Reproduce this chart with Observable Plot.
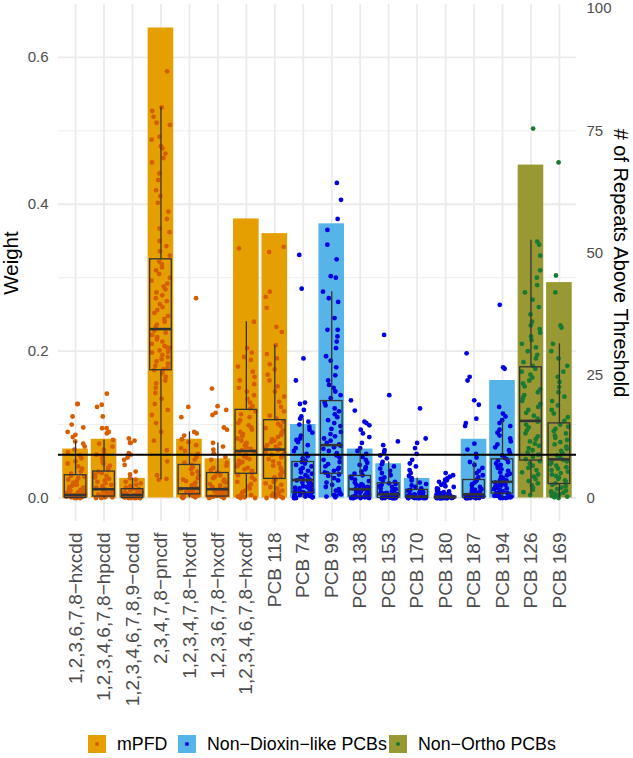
<!DOCTYPE html>
<html><head><meta charset="utf-8">
<script src="https://cdn.jsdelivr.net/npm/d3@7"></script>
<script src="https://cdn.jsdelivr.net/npm/@observablehq/plot@0.6"></script>
<style>
body{margin:0;background:#fff;font-family:"Liberation Sans",Arial,Helvetica,sans-serif;}
#chart{width:633px;height:758px;position:relative;overflow:hidden;}
#chart svg{display:block;}
.legend{position:absolute;top:735px;left:0;height:18px;width:633px;}
.item{position:absolute;top:0;display:flex;align-items:center;height:18px;}
.sw{width:18px;height:18px;position:relative;flex:none;}
.sw i{position:absolute;left:7px;top:7px;width:4px;height:4px;border-radius:50%;}
.lab{margin-left:11px;font-size:17.8px;color:#000;white-space:nowrap;line-height:18px;}
</style></head><body><div id="chart"></div>
<script>
// ---- categories and groups ----
const categories = ["1,2,3,6,7,8−hxcdd","1,2,3,4,6,7,8−hpcdd","1,2,3,4,6,7,8,9−ocdd","2,3,4,7,8−pncdf",
  "1,2,3,4,7,8−hxcdf","1,2,3,6,7,8−hxcdf","1,2,3,4,6,7,8−hxcdf","PCB 118","PCB 74","PCB 99","PCB 138",
  "PCB 153","PCB 170","PCB 180","PCB 187","PCB 194","PCB 126","PCB 169"];
const groupOf = [0,0,0,0,0,0,0,0,1,1,1,1,1,1,1,1,2,2];
const groups = ["mPFD","Non−Dioxin−like PCBs","Non−Ortho PCBs"];
const barColors = ["#E69F00","#56B4E9","#999933"];
const pointColors = ["#D55E00","#0000E0","#1A7A32"];

// ---- bars: # of repeats above threshold (right axis) ----
const repeats = [10,12,4,96,12,8,57,54,15,56,10,7,4,0,12,24,68,44];
const REPEATS_PER_WEIGHT = 150; // secondary axis: 100 repeats <-> 0.667 weight

// ---- boxplot summaries (weight) ----
const q1          = [0.000,0.002,0.000,0.174,0.005,0.002,0.033,0.026,0.007,0.033,0.002,0.000,0.000,0.000,0.000,0.006,0.051,0.019];
const median      = [0.004,0.012,0.004,0.230,0.013,0.012,0.064,0.066,0.0245,0.072,0.012,0.005,0.002,0.001,0.005,0.022,0.105,0.0526];
const q3          = [0.031,0.036,0.012,0.325,0.045,0.034,0.120,0.106,0.049,0.132,0.030,0.020,0.011,0.002,0.0245,0.0526,0.178,0.1016];
const whiskerLow  = [0,0,0,0.025,0,0,0,0,0,0.002,0,0,0,0,0,0,0.004,0];
const whiskerHigh = [0.077,0.079,0.027,0.532,0.090,0.075,0.240,0.208,0.108,0.281,0.068,0.049,0.027,0.005,0.049,0.106,0.351,0.210];

const threshold = 0.059;
const weightTicks = [0,0.2,0.4,0.6];
const weightMinor = [0.1,0.3,0.5];
const repeatTicks = [0,25,50,75,100];

// ---- individual weights per repeat (jittered points) ----
const w_hxcdd = [0,0,0,.001,.001,.001,.001,.002,.002,.002,.002,.003,.003,.003,.003,.004,.004,.005,.005,.006,.006,.007,.008,.009,.010,.011,.012,.014,.015,.017,.018,.020,.021,.023,.025,.027,.029,.030,.033,.036,.040,.043,.047,.050,.054,.058,.062,.066,.070,.074,.077,.083,.086,.090,.096,.100,.111,.128,.128];
const w_hpcdd = [0,0,.001,.001,.001,.002,.002,.002,.002,.003,.003,.004,.005,.006,.007,.008,.009,.010,.011,.012,.012,.013,.014,.016,.018,.020,.022,.024,.026,.028,.030,.032,.034,.036,.038,.041,.044,.047,.050,.053,.056,.059,.062,.066,.070,.074,.079,.088,.090,.095,.095,.111,.124,.127,.142];
const w_ocdd = [0,0,0,0,0,0,.001,.001,.001,.001,.002,.002,.002,.002,.003,.003,.003,.004,.004,.004,.005,.005,.006,.006,.007,.008,.008,.009,.010,.011,.012,.012,.014,.016,.018,.020,.022,.025,.027,.032,.036,.045,.052,.055,.059,.061,.075,.075,.078,.081];
const w_pncdf = [.581,.532,.527,.519,.511,.508,.492,.488,.479,.476,.469,.463,.457,.442,.433,.419,.411,.402,.390,.380,.367,.362,.350,.343,.336,.330,
  .322,.318,.314,.310,.305,.300,.296,.292,.288,.284,.280,.276,.272,.268,.264,.260,.256,.252,.248,.244,.240,.236,.233,
  .228,.225,.222,.219,.216,.213,.210,.207,.205,.204,.201,.199,.198,.195,.192,.189,.186,.183,.180,.177,.175,.174,
  .170,.165,.160,.156,.150,.143,.135,.128,.120,.113,.102,.090,.078,.065,.050,.031,.026,.025];
const w_hxcdf1 = [0,.001,.001,.002,.002,.003,.003,.004,.004,.005,.005,.006,.007,.008,.009,.010,.011,.012,.013,.013,.014,.015,.017,.019,.021,.023,.025,.027,.030,.033,.036,.039,.042,.045,.048,.052,.056,.060,.064,.068,.072,.076,.080,.085,.088,.090,.110,.124,.272];
const w_hxcdf2 = [0,0,.001,.001,.001,.002,.002,.002,.003,.003,.004,.005,.006,.007,.008,.009,.010,.011,.012,.012,.013,.014,.015,.017,.019,.021,.023,.025,.027,.029,.031,.033,.035,.038,.041,.044,.048,.052,.056,.061,.066,.070,.075,.093,.096,.113,.116,.120,.125,.149];
const w_hxcdf3 = [.340,.240,.204,.198,.192,.188,.179,.172,.165,.160,.155,.150,.145,.140,.135,.130,.125,.122,
  .118,.114,.110,.106,.102,.099,.096,.093,.090,.087,.084,.081,.078,.075,.072,.069,.067,.065,
  .063,.061,.059,.057,.055,.053,.051,.049,.047,.045,.043,.041,.039,.037,.035,.034,
  .031,.028,.025,.022,.019,.016,.013,.010,.008,.006,.004,.002,0,0,.001,.003];
const w_pcb118 = [.342,.335,.281,.274,.259,.233,.226,.208,.196,.190,.182,.175,.168,.160,.152,.145,.138,.131,.124,.118,.112,.108,
  .104,.101,.098,.095,.092,.089,.086,.083,.080,.078,.076,.074,.072,.070,.068,.067,
  .065,.063,.061,.059,.057,.055,.053,.050,.047,.044,.041,.038,.035,.032,.030,.028,.027,
  .025,.022,.020,.018,.015,.013,.010,.008,.006,.004,.002,0,0,.001,.003,.005];
const w_pcb74 = [.331,.285,.190,.160,.130,.128,.120,.111,.108,.104,.100,.097,.093,.089,.085,.081,.079,.076,.072,.068,.064,.060,.057,.054,.051,
  .049,.047,.045,.043,.041,.039,.037,.035,.033,.031,.029,.027,.026,.025,.024,.023,.022,.021,.020,.019,.018,.017,.016,.015,.014,.013,.012,.011,.010,.009,
  .008,.008,.007,.007,.006,.005,.004,.004,.003,.003,.002,.002,.001,.001,0,0,0];
const w_pcb99 = [.429,.406,.380,.365,.345,.325,.302,.300,.281,.272,.267,.245,.229,.229,.220,.213,.204,.193,.187,.178,.167,.160,.154,.150,.145,.140,.136,
  .130,.126,.122,.118,.114,.110,.106,.102,.098,.094,.090,.087,.084,.081,.078,.075,.073,
  .071,.069,.067,.064,.061,.058,.055,.052,.049,.046,.043,.041,.039,.037,.035,.034,
  .032,.030,.027,.024,.021,.018,.015,.012,.010,.008,.006,.004,.002,.001,.003,.005];
const w_pcb138 = [.133,.119,.104,.102,.099,.093,.088,.083,.075,.068,.064,.060,.056,.052,.048,.045,.042,.039,.036,.033,.031,.029,.027,.025,.023,.021,.019,.018,.017,.016,.015,.014,.013,.012,.012,.011,.010,.009,.008,.007,.007,.006,.005,.005,.004,.004,.003,.003,.002,.002,.002,.001,.001,.001,0,0,0,0,0,.001];
const w_pcb153 = [.222,.140,.077,.072,.065,.062,.058,.054,.049,.046,.043,.040,.037,.034,.031,.028,.026,.024,.022,.020,.019,.018,.016,.015,.013,.012,.011,.010,.009,.008,.007,.006,.006,.005,.005,.004,.004,.003,.003,.002,.002,.002,.001,.001,.001,.001,0,0,0,0,0,0,0,0];
const w_pcb170 = [.122,.081,.075,.068,.060,.052,.047,.043,.038,.034,.030,.027,.024,.021,.019,.017,.015,.013,.011,.010,.009,.008,.007,.006,.005,.005,.004,.004,.003,.003,.003,.002,.002,.002,.002,.001,.001,.001,.001,.001,0,0,0,0,0,0,0,0,0,0];
const w_pcb180 = [.034,.031,.029,.027,.025,.024,.022,.020,.018,.016,.015,.013,.012,.010,.009,.008,.007,.006,.005,.005,.004,.004,.003,.003,.003,.002,.002,.002,.002,.002,.001,.001,.001,.001,.001,.001,.001,0,0,0,0,0,0,0,0,0,0,0,0,0];
const w_pcb187 = [.197,.165,.160,.133,.127,.108,.102,.098,.074,.066,.060,.055,.049,.045,.041,.037,.034,.031,.028,.025,.023,.021,.019,.017,.015,.013,.012,.011,.010,.009,.008,.007,.006,.006,.005,.005,.004,.004,.003,.003,.003,.002,.002,.002,.001,.001,.001,.001,0,0,0,0,0,0,0,0];
const w_pcb194 = [.263,.178,.176,.124,.115,.111,.106,.102,.098,.093,.089,.085,.081,.077,.073,.069,.065,.061,.058,.055,.053,.051,.049,.047,.045,.043,.041,.039,.037,.035,.033,.031,.029,.027,.025,.024,.023,.022,.021,.020,.019,.018,.017,.016,.015,.014,.013,.012,.011,.010,.009,.008,.007,.007,.006,.006,.005,.004,.003,.003,.002,.002,.001,.001,0,0,0];
const w_pcb126 = [.503,.349,.345,.330,.310,.300,.290,.280,.270,.260,.250,.240,.235,.230,.225,.220,.215,.210,.205,.200,.195,.190,.185,.180,
  .176,.172,.168,.164,.160,.156,.152,.148,.144,.140,.136,.132,.128,.124,.120,.116,.112,.108,
  .104,.100,.096,.092,.088,.084,.080,.077,.074,.071,.068,.065,.062,.059,.056,.053,
  .050,.047,.044,.041,.038,.035,.032,.029,.026,.023,.020,.017,.014,.011,.008,.004];
const w_pcb169 = [.457,.303,.280,.235,.232,.210,.200,.190,.180,.172,.165,.158,.151,.144,.138,.132,.126,.120,.115,.110,.105,
  .100,.097,.094,.091,.088,.085,.082,.079,.076,.073,.070,.067,.064,.061,.058,.055,
  .052,.050,.048,.046,.044,.042,.040,.038,.036,.034,.032,.030,.028,.026,.024,.022,.020,
  .018,.016,.014,.012,.010,.008,.006,.004,.002,0,.001,.003,.005,.007,.009];
const pointSets = [w_hxcdd,w_hpcdd,w_ocdd,w_pncdf,w_hxcdf1,w_hxcdf2,w_hxcdf3,w_pcb118,w_pcb74,w_pcb99,
  w_pcb138,w_pcb153,w_pcb170,w_pcb180,w_pcb187,w_pcb194,w_pcb126,w_pcb169];

// ---- build tables ----
const BAR_W = 0.45, BOX_W = 0.38, JIT = 0.33;
const jitter = (i, k) => { const s = Math.sin((i + 1) * 78.233 + (k + 1) * 12.9898) * 43758.5453; return (s - Math.floor(s) - 0.5) * 2 * JIT; };
const bars = categories.map((c, i) => ({i, c, g: groupOf[i], r: repeats[i]}));
const boxes = categories.map((c, i) => ({i, q1: q1[i], med: median[i], q3: q3[i], lo: whiskerLow[i], hi: whiskerHigh[i]}));
const pts = [];
pointSets.forEach((arr, i) => arr.forEach((v, k) => pts.push({i, v, g: groupOf[i], j: jitter(i, k)})));
const idx = categories.map((_, i) => i);
const GRID = "#ebebeb", BOX = "#333333", TICK = "#4d4d4d";

const chart = Plot.plot({
  width: 633, height: 726,
  marginTop: 4, marginBottom: 205, marginLeft: 58, marginRight: 57,
  x: {type: "linear", domain: [-0.6, 17.6], axis: null},
  y: {domain: [-0.032, 0.672]},
  color: {type: "identity"},
  style: {fontFamily: '"Liberation Sans", Arial, Helvetica, sans-serif', background: "white", overflow: "visible"},
  marks: [
    Plot.gridY(weightMinor, {stroke: GRID, strokeOpacity: 1, strokeWidth: 0.9}),
    Plot.gridY(weightTicks, {stroke: GRID, strokeOpacity: 1, strokeWidth: 1.8}),
    Plot.gridX(idx, {stroke: GRID, strokeOpacity: 1, strokeWidth: 1.8}),
    Plot.rect(bars, {x1: d => d.i - BAR_W, x2: d => d.i + BAR_W, y1: d => 0, y2: d => d.r / REPEATS_PER_WEIGHT, fill: d => barColors[d.g]}),
    Plot.dot(pts, {x: d => d.i + d.j, y: "v", r: 2.4, fill: d => pointColors[d.g], stroke: "none"}),
    Plot.ruleX(boxes, {x: "i", y1: "lo", y2: "q1", stroke: BOX, strokeWidth: 1.3}),
    Plot.ruleX(boxes, {x: "i", y1: "q3", y2: "hi", stroke: BOX, strokeWidth: 1.3}),
    Plot.rect(boxes, {x1: d => d.i - BOX_W, x2: d => d.i + BOX_W, y1: "q1", y2: "q3", fill: "none", stroke: BOX, strokeWidth: 1.3}),
    Plot.ruleY(boxes, {x1: d => d.i - BOX_W, x2: d => d.i + BOX_W, y: "med", stroke: BOX, strokeWidth: 2.6}),
    Plot.ruleY([threshold], {stroke: "black", strokeWidth: 2}),
    Plot.axisY(weightTicks, {anchor: "left", tickSize: 0, tickPadding: 10, tickFormat: d3.format(".1f"), fontSize: 15, color: TICK, label: null}),
    Plot.axisY(repeatTicks.map(r => r / REPEATS_PER_WEIGHT), {anchor: "right", tickSize: 0, tickPadding: 10, tickFormat: w => String(Math.round(w * REPEATS_PER_WEIGHT)), fontSize: 15, color: TICK, label: null}),
    Plot.text(bars, {x: "i", text: "c", frameAnchor: "bottom", dy: 11, rotate: -90, textAnchor: "end", lineAnchor: "middle", fontSize: 19, fill: TICK}),
    Plot.text(["Weight"], {text: d => d, frameAnchor: "left", dx: -47, rotate: -90, fontSize: 20.5, fill: "black", textAnchor: "middle", lineAnchor: "middle"}),
    Plot.text(["# of Repeats Above Threshold"], {text: d => d, frameAnchor: "right", dx: 44, rotate: 90, fontSize: 20, fill: "black", textAnchor: "middle", lineAnchor: "middle"})
  ]
});
const root = document.getElementById("chart");
root.appendChild(chart);

// ---- legend ----
const legend = document.createElement("div");
legend.className = "legend";
const legendLeft = [88, 178, 389];
groups.forEach((g, k) => {
  const item = document.createElement("div");
  item.className = "item";
  item.style.left = legendLeft[k] + "px";
  item.innerHTML = `<span class="sw" style="background:${barColors[k]}"><i style="background:${pointColors[k]}"></i></span><span class="lab">${g}</span>`;
  legend.appendChild(item);
});
root.appendChild(legend);
</script></body></html>
